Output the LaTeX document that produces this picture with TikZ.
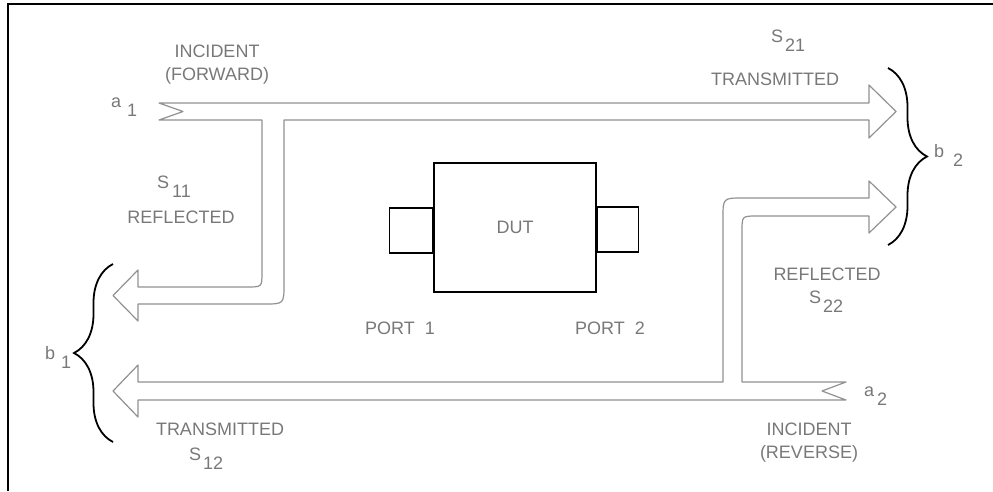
\documentclass[tikz,border=0pt]{standalone}
\usepackage{fontspec}
\setmainfont{Liberation Sans}
\usetikzlibrary{positioning,decorations.pathreplacing}
\definecolor{linegray}{RGB}{145,145,145}
\definecolor{textgray}{RGB}{120,120,120}
\newcommand{\sublbl}[3]{#1\hspace{#3}\raisebox{-9pt}{#2}}

\begin{document}
\begin{tikzpicture}[x=1pt, y=-1pt,
  lbl/.style={text=textgray, font=\fontsize{18}{23}\selectfont, inner sep=0pt, align=center},
  wave/.style={draw=linegray, line width=1.2pt, line join=round},
  box/.style={draw=black, line width=1.4pt, inner sep=0pt},
  brc/.style={draw=black, line width=1.8pt, decorate, decoration={brace, amplitude=39pt}},
  frm/.style={draw=black, line width=2pt}
]
\useasboundingbox (0,0) rectangle (993,491);
\draw[frm] (993,4) -- (7.5,4) -- (7.5,491);

% forward wave: a1 in, b2 out, reflected to b1
\draw[wave] (159,103) -- (869,103) -- (869,85) -- (896,111.5) -- (869,138)
  -- (869,120) -- (284,120) -- (284,284) .. controls (284,304) .. (264,304)
  -- (138,304) -- (138,321) -- (113,295.5) -- (138,270) -- (138,287)
  -- (247,287) .. controls (262,287) .. (262,272) -- (262,120)
  -- (159,120) -- (183,111.5) -- cycle;

% reverse wave: a2 in, b1 out, reflected to b2
\draw[wave] (846,382) -- (822,391) -- (846,400) -- (138,400) -- (138,417)
  -- (113,391) -- (138,365) -- (138,382) -- (723,382)
  -- (723,218) .. controls (723,198) .. (743,198) -- (869,198) -- (869,181)
  -- (896,207) -- (869,233) -- (869,216) -- (757,216)
  .. controls (742,216) .. (742,231) -- (742,382) -- cycle;

% braces
\draw[brc] (888,68) -- (888,245);
\draw[brc] (113,442) -- (113,264);

% device
\node[box, lbl, minimum width=162, minimum height=129] (dut) at (515,227.5) {DUT};
\node[box, minimum width=43, minimum height=45, left=0pt of dut, yshift=-3pt] (tab1) {};
\node[box, minimum width=41, minimum height=45, right=0pt of dut, yshift=-2pt] (tab2) {};
\node[lbl] (port1) at (400,328) {PORT~~1};
\node[lbl] (port2) at (610,328) {PORT~~2};

% labels
\node[lbl] (incfwd) at (217,65) {INCIDENT\\(FORWARD)};
\node[lbl, anchor=base west] (a1) at (111,107) {a\sublbl{}{1}{6pt}};
\node[lbl, anchor=base west] (s11) at (157,188) {\sublbl{S}{11}{3pt}};
\node[lbl] (refl1) at (181,217) {REFLECTED};
\node[lbl, anchor=base west] (s21) at (771,42) {\sublbl{S}{21}{2pt}};
\node[lbl] (trans2) at (775,79) {TRANSMITTED};
\node[lbl, anchor=base west] (b2) at (934,157) {b\sublbl{}{2}{9pt}};
\node[lbl, anchor=base west] (b1) at (45,359) {b\sublbl{}{1}{6pt}};
\node[lbl] (trans1) at (220,429) {TRANSMITTED};
\node[lbl, anchor=base west] (s12) at (189,460) {\sublbl{S}{12}{2pt}};
\node[lbl] (refl2) at (827,274) {REFLECTED};
\node[lbl, anchor=base west] (s22) at (809,303) {\sublbl{S}{22}{2pt}};
\node[lbl] (increv) at (809,443) {INCIDENT\\(REVERSE)};
\node[lbl, anchor=base west] (a2) at (864,396) {a\sublbl{}{2}{3pt}};

\end{tikzpicture}
\end{document}
